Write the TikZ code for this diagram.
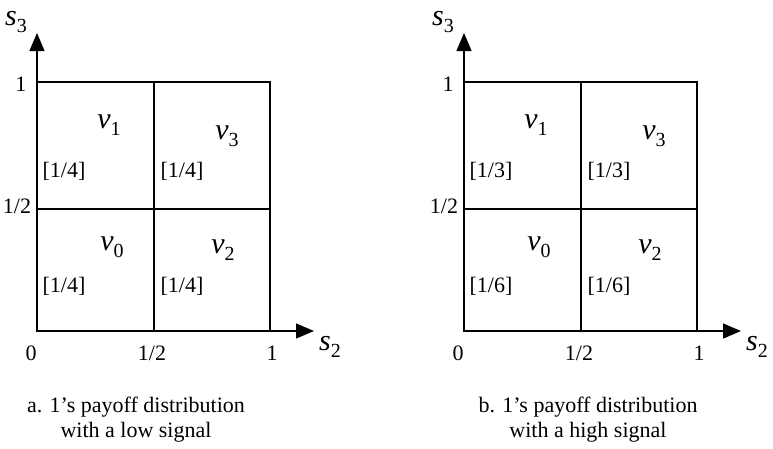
\documentclass[tikz,border=0pt]{standalone}
\usepackage{fontspec}
\setmainfont{Liberation Serif}
\usepackage{tikz}
\usetikzlibrary{arrows.meta}

% italic symbol with a lowered index
\newcommand\subvar[2]{{\fontsize{30}{30}\selectfont\itshape #1}\raisebox{-7pt}{\fontsize{20}{20}\selectfont #2}}

\begin{document}
\begin{tikzpicture}[
  x=1pt, y=-1pt,
  font=\fontsize{22}{25}\selectfont,
  every node/.style={inner sep=0pt},
  gridline/.style={line width=1.2pt},
  axis/.style={line width=1.2pt, -{Triangle[length=18pt,width=15pt]}},
  caption/.style={align=center}
]
\useasboundingbox (0,0) rectangle (773,448);

\foreach \i/\ox/\cx/\pt/\pb/\tx in {
    a/37/136/{[1/4]}/{[1/4]}/{a. 1's payoff distribution\\with a low signal},
    b/464/588/{[1/3]}/{[1/6]}/{b. 1's payoff distribution\\with a high signal}} {

  \begin{scope}[shift={(\ox,331)}]
    %% unit square, split in four
    \draw[gridline] (0,-249) rectangle (233,0);
    \draw[gridline] (117,-249) -- (117,0);
    \draw[gridline] (0,-122) -- (233,-122);

    %% axes
    \draw[axis] (0,0) -- (0,-298);
    \draw[axis] (0,0) -- (277,0);
    \node (s3-\i) at (-21,-309) {\subvar{s}{3}};
    \node (s2-\i) at (293,16)   {\subvar{s}{2}};

    %% ticks
    \node (y1-\i) at (-16,-247) {1};
    \node (yh-\i) at (-20,-125) {1/2};
    \node (x0-\i) at (-6,22)    {0};
    \node (xh-\i) at (115,22)   {1/2};
    \node (x1-\i) at (235,22)   {1};

    %% payoffs
    \node (v1-\i) at (72,-206)  {\subvar{v}{1}};
    \node (v3-\i) at (190,-195) {\subvar{v}{3}};
    \node (v0-\i) at (75,-84)   {\subvar{v}{0}};
    \node (v2-\i) at (186,-81)  {\subvar{v}{2}};

    %% probabilities
    \node (p1-\i) at (27,-160)  {\pt};
    \node (p3-\i) at (145,-160) {\pt};
    \node (p0-\i) at (27,-45)   {\pb};
    \node (p2-\i) at (145,-45)  {\pb};
  \end{scope}

  \node[caption] (cap-\i) at (\cx,420) {\tx};
}

\end{tikzpicture}
\end{document}
